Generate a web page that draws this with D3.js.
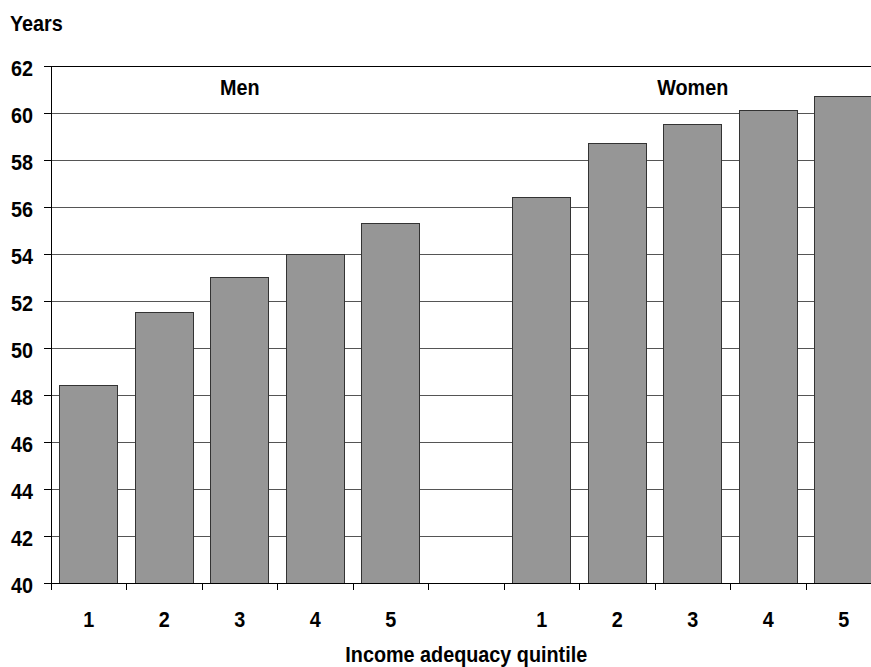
<!DOCTYPE html>
<html>
<head>
<meta charset="utf-8">
<script src="https://cdn.jsdelivr.net/npm/d3@7"></script>
<style>
  body { margin: 0; background: #fff; }
  text { font-family: "Liberation Sans", Arial, sans-serif; font-weight: bold; fill: #000; font-size: 22px; }
</style>
</head>
<body>
<div class="vis-bars"></div>
<script>
// slots: 5 men, an empty gap, 5 women
const slots = ["m1", "m2", "m3", "m4", "m5", "gap", "w1", "w2", "w3", "w4", "w5"];
const slotLabels = ["1", "2", "3", "4", "5", "", "1", "2", "3", "4", "5"];
const menValues = [48.4, 51.5, 53.0, 54.0, 55.3];
const womenValues = [56.4, 58.7, 59.5, 60.1, 60.7];
const yTicks = [40, 42, 44, 46, 48, 50, 52, 54, 56, 58, 60, 62];
const groupLabels = ["Men", "Women"];

const narrow = "scale(0.9,1)"; // fake a narrow face

const draw = () => {
    let data = [];
    menValues.forEach((v, i) => data.push({ key: slots[i], value: v }));
    womenValues.forEach((v, i) => data.push({ key: slots[i + 6], value: v }));

    const width = 871, height = 667;
    let margin = { top: 66, left: 51, bottom: 84 };
    const plotW = 830.5;
    const plotH = height - margin.top - margin.bottom;

    let svg = d3.select(".vis-bars")
        .append("svg")
        .attr("width", width)
        .attr("height", height)
        .append("g")
        .attr("transform", "translate(" + margin.left + "," + margin.top + ")");

    let x = d3.scaleBand().domain(slots).range([0, plotW]).paddingInner(0.23).paddingOuter(0.115);
    let xTick = d3.scaleBand().domain(slots).range([0, plotW]);
    let y = d3.scaleLinear().domain([40, 62]).range([plotH, 0]);

    // gridlines
    svg.append("g")
        .selectAll("line")
        .data(yTicks.slice(1))
        .join("line")
        .attr("x1", 0).attr("x2", plotW)
        .attr("y1", d => y(d)).attr("y2", d => y(d))
        .attr("stroke", d => d === 62 ? "#000" : "#555")
        .attr("stroke-width", 1)
        .attr("shape-rendering", "crispEdges");

    // bars
    svg.append("g")
        .selectAll("rect")
        .data(data)
        .join("rect")
        .attr("x", d => x(d.key))
        .attr("y", d => y(d.value))
        .attr("width", x.bandwidth())
        .attr("height", d => y(40) - y(d.value))
        .attr("fill", "#969696")
        .attr("stroke", "#333")
        .attr("stroke-width", 1)
        .attr("shape-rendering", "crispEdges");

    // Y axis
    let yAxis = svg.append("g")
        .call(d3.axisLeft(y).tickValues(yTicks).tickSize(7).tickPadding(13).tickSizeOuter(0));
    yAxis.attr("font-family", null).attr("font-size", null);
    yAxis.selectAll("text").attr("dy", "0.45em").attr("transform", narrow);
    yAxis.selectAll("line, path").attr("stroke", "#000").attr("shape-rendering", "crispEdges");

    // X axis, ticks at band boundaries
    let xAxis = svg.append("g").attr("transform", "translate(0," + plotH + ")");
    xAxis.append("line")
        .attr("x1", 0).attr("x2", plotW)
        .attr("stroke", "#000").attr("shape-rendering", "crispEdges");
    xAxis.selectAll(".tick")
        .data(slots)
        .join("line")
        .attr("x1", d => xTick(d)).attr("x2", d => xTick(d))
        .attr("y1", 0).attr("y2", 7)
        .attr("stroke", "#000").attr("shape-rendering", "crispEdges");
    xAxis.selectAll(".lbl")
        .data(slots)
        .join("text")
        .attr("transform", d => "translate(" + (xTick(d) + xTick.bandwidth() / 2) + ",44) " + narrow)
        .attr("text-anchor", "middle")
        .text((d, i) => slotLabels[i]);

    // group labels
    svg.selectAll(".grp")
        .data(groupLabels)
        .join("text")
        .attr("transform", (d, i) => "translate(" + (xTick(i === 0 ? "m3" : "w3") + xTick.bandwidth() / 2) + ",29) " + narrow)
        .attr("text-anchor", "middle")
        .text(d => d);

    svg.append("text")
        .attr("transform", "translate(-41,-35) " + narrow)
        .text("Years");

    svg.append("text")
        .attr("transform", "translate(" + (plotW / 2) + "," + (plotH + 79) + ") " + narrow)
        .attr("text-anchor", "middle")
        .text("Income adequacy quintile");
}

draw();
</script>
</body>
</html>
